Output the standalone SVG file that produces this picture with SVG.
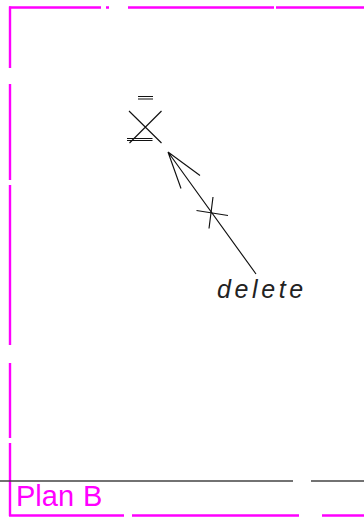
<svg xmlns="http://www.w3.org/2000/svg" width="364" height="518" viewBox="0 0 364 518">
<style>
.b{stroke:#ff00ff;stroke-width:2.4;fill:none}
.k{stroke:#111;stroke-width:1.15;fill:none}
.g{stroke:#444;stroke-width:1.3;fill:none}
text{font-family:"Liberation Sans",Arial,sans-serif}
</style>
<rect width="364" height="518" fill="#fff"/>
<g id="frame">
<path class="b" d="M9 7.500H101M106 7.500H109M128 7.500H274M276 7.500H364"/>
<path class="b" d="M10 6.500V68M10 84V100M10 100V180M10 185V345M10 363V438M10 443V516"/>
<path class="b" d="M9 515.500H124M132 515.500H299M322 515.500H364"/>
</g>
<g id="base"><path class="g" d="M0 481H293M311 481H364"/></g>
<g id="connectors">
<path class="k" d="M256 274L168 152M168 152L200 175.500M168 152L181 188.500"/>
<path class="k" d="M196.500 210.500L228 215.500M213 197L209 228.500"/>
<path class="k" d="M129 111L161.500 143M161.500 111L129.500 143"/>
<path class="k" d="M138 96.500H153M138 99H153M127 138.500H152.500M127 140.500H152.500"/>
</g>
<g id="label-delete"><text x="217" y="298" font-size="25" font-style="italic" letter-spacing="3.600" fill="#222">delete</text></g>
<g id="label-plan"><text x="16" y="506" font-size="29" fill="#ff00ff" word-spacing="1">Plan B</text></g>
</svg>
